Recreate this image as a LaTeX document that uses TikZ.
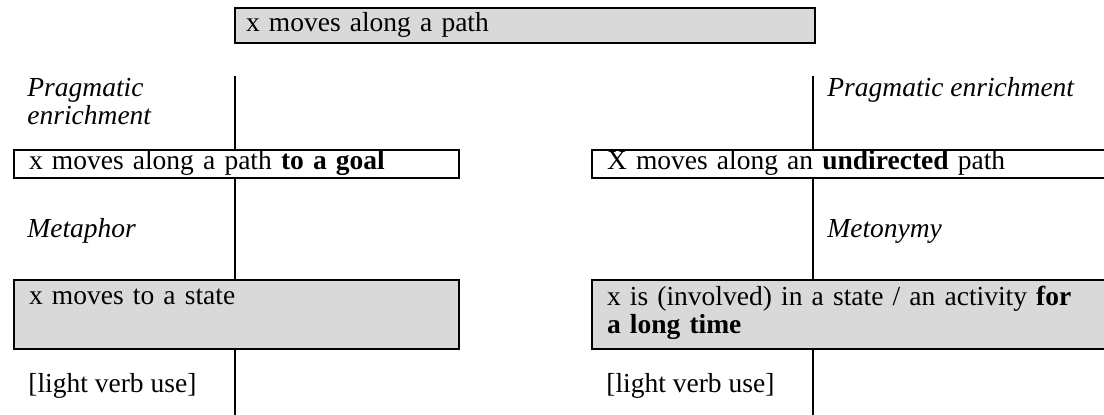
\documentclass[tikz,border=0pt]{standalone}
\usepackage{fontspec}
\setmainfont{Liberation Serif}
\definecolor{boxgray}{RGB}{217,217,217}
\begin{document}
\begin{tikzpicture}[x=0.5pt,y=-0.5pt,
  every node/.style={font=\fontsize{13.75}{14}\selectfont},
  frame/.style={draw, line width=1pt, anchor=north west, align=left,
    inner ysep=0pt, inner xsep=7.5pt},
  shaded/.style={frame, fill=boxgray},
  plain/.style={frame, fill=white},
  note/.style={anchor=base west, inner sep=0pt, align=left},
  process/.style={note, font=\fontsize{13.75}{14}\selectfont\itshape},
  stem/.style={line width=1.2pt}]
\clip (0,0) rectangle (1104,415);

% top concept
\node[shaded, inner xsep=5.5pt, minimum width=290pt, minimum height=17.25pt,
  text width=279pt] (path) at (234,7.5) {x moves along a path\strut};

% left branch
\node[plain, minimum width=222.5pt, minimum height=14.25pt, text width=207.5pt]
  (lpath) at (13,149) {x moves along a path \textbf{to a goal}\strut};
\node[shaded, minimum width=222.5pt, minimum height=34.5pt, text width=207.5pt]
  (lstate) at (13,279) {x moves to a state\\\strut};

% right branch
\node[plain, minimum width=259.5pt, minimum height=14.25pt, text width=244.5pt]
  (rpath) at (591,149) {X moves along an \textbf{undirected} path\strut};
\node[shaded, minimum width=259.5pt, minimum height=34.5pt, text width=244.5pt]
  (rstate) at (591,279)
  {x is (involved) in a state / an activity \textbf{for}\\\textbf{a long time}\strut};

% process labels (a two-line node sits on the baseline of its last line)
\node[process] (lprag) at (27,125) {Pragmatic\\enrichment};
\node[process] (rprag) at (827,97) {Pragmatic enrichment};
\node[process] (lmeta) at (27,238) {Metaphor};
\node[process] (rmeto) at (827,238) {Metonymy};
\node[note] (llight) at (28,393) {[light verb use]};
\node[note] (rlight) at (606,393) {[light verb use]};

% vertical stems
\coordinate (ltop) at (235,76);
\coordinate (lbot) at (235,420);
\coordinate (rtop) at (813,76);
\coordinate (rbot) at (813,420);
\draw[stem] (ltop) -- (ltop |- lpath.north);
\draw[stem] (lpath.south -| ltop) -- (ltop |- lstate.north);
\draw[stem] (lstate.south -| ltop) -- (lbot);
\draw[stem] (rtop) -- (rtop |- rpath.north);
\draw[stem] (rpath.south -| rtop) -- (rtop |- rstate.north);
\draw[stem] (rstate.south -| rtop) -- (rbot);
\end{tikzpicture}
\end{document}
